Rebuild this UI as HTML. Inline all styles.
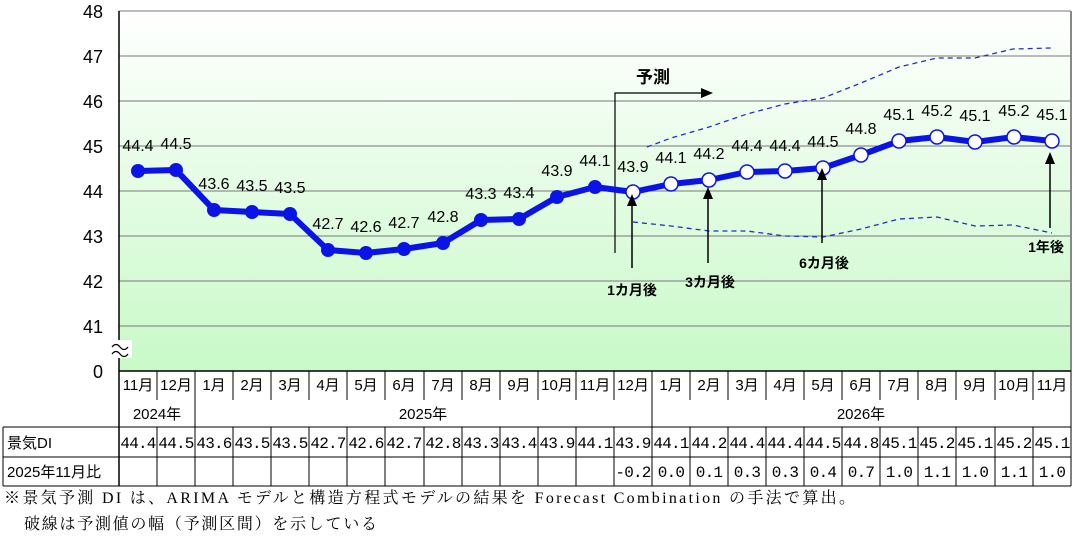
<!DOCTYPE html>
<html><head><meta charset="utf-8"><style>
body{margin:0;background:#fff;width:1081px;height:539px;overflow:hidden}
svg{display:block;font-family:"Liberation Sans","Noto Sans CJK JP",sans-serif}
.ft{font-family:"Liberation Serif","Noto Serif CJK SC",serif;font-size:16px}
</style></head><body>
<svg width="1081" height="539" viewBox="0 0 1081 539">
<defs><linearGradient id="g" x1="0" y1="0" x2="0" y2="1"><stop offset="0" stop-color="#ffffff"/><stop offset="1" stop-color="#c8f9c8"/></linearGradient></defs>
<rect x="119" y="11" width="952" height="360" fill="url(#g)"/>
<g stroke="#777" stroke-width="1">
<line x1="119" y1="11" x2="1071" y2="11"/><line x1="119" y1="56" x2="1071" y2="56"/><line x1="119" y1="101" x2="1071" y2="101"/><line x1="119" y1="146" x2="1071" y2="146"/><line x1="119" y1="191" x2="1071" y2="191"/><line x1="119" y1="236" x2="1071" y2="236"/><line x1="119" y1="281" x2="1071" y2="281"/><line x1="119" y1="326" x2="1071" y2="326"/>
</g>
<line x1="1071" y1="11" x2="1071" y2="371" stroke="#888" stroke-width="2"/>
<line x1="119" y1="11" x2="119" y2="486" stroke="#000" stroke-width="1.5"/>
<line x1="119" y1="371" x2="1071" y2="371" stroke="#000" stroke-width="1.5"/>
<rect x="110" y="340" width="22" height="18" fill="#fff"/>
<path d="M112 347 q4 -5 8 0 t8 0 M112 354 q4 -5 8 0 t8 0" fill="none" stroke="#000" stroke-width="1.3"/>
<g font-size="18" text-anchor="end" fill="#000">
<text x="103" y="18">48</text><text x="103" y="63">47</text><text x="103" y="108">46</text><text x="103" y="153">45</text><text x="103" y="198">44</text><text x="103" y="243">43</text><text x="103" y="288">42</text><text x="103" y="333">41</text><text x="103" y="378">0</text>
</g>
<polyline points="615,253 615,93 703,93" fill="none" stroke="#000" stroke-width="1.2"/>
<polygon points="713,93 701,88 701,98" fill="#000"/>
<text x="636" y="83" font-size="17" font-weight="bold">予測</text>
<polyline points="647,147 671,138 709,127 747,114 785,104 823,98 861,83 899,67 937,58 975,58 1013,49 1052,48" fill="none" stroke="#2030c0" stroke-width="1.3" stroke-dasharray="5,4"/>
<polyline points="633,222 671,226 709,231 747,231 785,236 823,237 861,229 899,219 937,217 975,226 1013,225 1052,233" fill="none" stroke="#2030c0" stroke-width="1.3" stroke-dasharray="5,4"/>
<polyline points="138,171 176,170 214,210 252,212 290,214 328,250 366,253 404,249 443,243 481,220 519,219 557,197 595,187 633,192 671,184 709,180 747,172 785,171 823,168 861,155 899,141 937,137 975,142 1014,137 1052,141" fill="none" stroke="#0a14e6" stroke-width="6" stroke-linejoin="round"/>
<g fill="#0a14e6">
<circle cx="138" cy="171" r="7"/><circle cx="176" cy="170" r="7"/><circle cx="214" cy="210" r="7"/><circle cx="252" cy="212" r="7"/><circle cx="290" cy="214" r="7"/><circle cx="328" cy="250" r="7"/><circle cx="366" cy="253" r="7"/><circle cx="404" cy="249" r="7"/><circle cx="443" cy="243" r="7"/><circle cx="481" cy="220" r="7"/><circle cx="519" cy="219" r="7"/><circle cx="557" cy="197" r="7"/><circle cx="595" cy="187" r="7"/>
</g>
<g fill="#fff" stroke="#0a14e6" stroke-width="1.5">
<circle cx="633" cy="192" r="7"/><circle cx="671" cy="184" r="7"/><circle cx="709" cy="180" r="7"/><circle cx="747" cy="172" r="7"/><circle cx="785" cy="171" r="7"/><circle cx="823" cy="168" r="7"/><circle cx="861" cy="155" r="7"/><circle cx="899" cy="141" r="7"/><circle cx="937" cy="137" r="7"/><circle cx="975" cy="142" r="7"/><circle cx="1014" cy="137" r="7"/><circle cx="1052" cy="141" r="7"/>
</g>
<g font-size="16" text-anchor="middle" fill="#000">
<text x="138" y="151">44.4</text><text x="176" y="149">44.5</text><text x="214" y="189">43.6</text><text x="252" y="191">43.5</text><text x="290" y="193">43.5</text><text x="328" y="229">42.7</text><text x="366" y="232">42.6</text><text x="404" y="228">42.7</text><text x="443" y="222">42.8</text><text x="481" y="199">43.3</text><text x="519" y="198">43.4</text><text x="557" y="176">43.9</text><text x="595" y="166">44.1</text>
<text x="633" y="172">43.9</text><text x="671" y="163">44.1</text><text x="709" y="159">44.2</text><text x="747" y="151">44.4</text><text x="785" y="151">44.4</text><text x="823" y="147">44.5</text><text x="861" y="134">44.8</text><text x="899" y="120">45.1</text><text x="937" y="116">45.2</text><text x="975" y="121">45.1</text><text x="1014" y="116">45.2</text><text x="1052" y="120">45.1</text>
</g>
<g stroke="#000" stroke-width="1.5"><line x1="632" y1="268" x2="632" y2="205"/><line x1="708" y1="263" x2="708" y2="195"/><line x1="822" y1="243" x2="822" y2="178"/><line x1="1050" y1="228" x2="1050" y2="155"/></g>
<g fill="#000"><polygon points="632,194 627,206 637,206"/><polygon points="708,187 703,199 713,199"/><polygon points="822,168 817,180 827,180"/><polygon points="1050,152 1045,164 1055,164"/></g>
<g font-size="14" font-weight="bold" text-anchor="middle">
<text x="632" y="295">1カ月後</text><text x="710" y="287">3カ月後</text><text x="824" y="268">6カ月後</text><text x="1046" y="252">1年後</text>
</g>
<g stroke="#000" stroke-width="1">
<line x1="3" y1="427" x2="1071" y2="427"/><line x1="3" y1="457" x2="1071" y2="457"/><line x1="3" y1="486" x2="1071" y2="486"/>
<line x1="3" y1="427" x2="3" y2="486"/><line x1="1071" y1="371" x2="1071" y2="486"/>
<line x1="195" y1="371" x2="195" y2="427"/><line x1="652" y1="371" x2="652" y2="427"/>
</g>
<g stroke="#000" stroke-width="1">
<line x1="157" y1="371" x2="157" y2="400"/><line x1="233" y1="371" x2="233" y2="400"/><line x1="271" y1="371" x2="271" y2="400"/><line x1="309" y1="371" x2="309" y2="400"/><line x1="347" y1="371" x2="347" y2="400"/><line x1="385" y1="371" x2="385" y2="400"/><line x1="424" y1="371" x2="424" y2="400"/><line x1="462" y1="371" x2="462" y2="400"/><line x1="500" y1="371" x2="500" y2="400"/><line x1="538" y1="371" x2="538" y2="400"/><line x1="576" y1="371" x2="576" y2="400"/><line x1="614" y1="371" x2="614" y2="400"/><line x1="690" y1="371" x2="690" y2="400"/><line x1="728" y1="371" x2="728" y2="400"/><line x1="766" y1="371" x2="766" y2="400"/><line x1="804" y1="371" x2="804" y2="400"/><line x1="842" y1="371" x2="842" y2="400"/><line x1="880" y1="371" x2="880" y2="400"/><line x1="918" y1="371" x2="918" y2="400"/><line x1="956" y1="371" x2="956" y2="400"/><line x1="995" y1="371" x2="995" y2="400"/><line x1="1033" y1="371" x2="1033" y2="400"/>
</g>
<g stroke="#000" stroke-width="1">
<line x1="157" y1="427" x2="157" y2="486"/><line x1="195" y1="427" x2="195" y2="486"/><line x1="233" y1="427" x2="233" y2="486"/><line x1="271" y1="427" x2="271" y2="486"/><line x1="309" y1="427" x2="309" y2="486"/><line x1="347" y1="427" x2="347" y2="486"/><line x1="385" y1="427" x2="385" y2="486"/><line x1="424" y1="427" x2="424" y2="486"/><line x1="462" y1="427" x2="462" y2="486"/><line x1="500" y1="427" x2="500" y2="486"/><line x1="538" y1="427" x2="538" y2="486"/><line x1="576" y1="427" x2="576" y2="486"/><line x1="614" y1="427" x2="614" y2="486"/><line x1="652" y1="427" x2="652" y2="486"/><line x1="690" y1="427" x2="690" y2="486"/><line x1="728" y1="427" x2="728" y2="486"/><line x1="766" y1="427" x2="766" y2="486"/><line x1="804" y1="427" x2="804" y2="486"/><line x1="842" y1="427" x2="842" y2="486"/><line x1="880" y1="427" x2="880" y2="486"/><line x1="918" y1="427" x2="918" y2="486"/><line x1="956" y1="427" x2="956" y2="486"/><line x1="995" y1="427" x2="995" y2="486"/><line x1="1033" y1="427" x2="1033" y2="486"/>
</g>
<g font-size="15" text-anchor="middle">
<text x="138" y="390">11月</text><text x="176" y="390">12月</text><text x="214" y="390">1月</text><text x="252" y="390">2月</text><text x="290" y="390">3月</text><text x="328" y="390">4月</text><text x="366" y="390">5月</text><text x="404" y="390">6月</text><text x="443" y="390">7月</text><text x="481" y="390">8月</text><text x="519" y="390">9月</text><text x="557" y="390">10月</text><text x="595" y="390">11月</text><text x="633" y="390">12月</text><text x="671" y="390">1月</text><text x="709" y="390">2月</text><text x="747" y="390">3月</text><text x="785" y="390">4月</text><text x="823" y="390">5月</text><text x="861" y="390">6月</text><text x="899" y="390">7月</text><text x="937" y="390">8月</text><text x="975" y="390">9月</text><text x="1014" y="390">10月</text><text x="1052" y="390">11月</text>
<text x="157" y="419">2024年</text><text x="423" y="419">2025年</text><text x="861" y="419">2026年</text>
</g>
<text x="7" y="448" font-size="15">景気DI</text>
<text x="7" y="477" font-size="15">2025年11月比</text>
<g font-size="16" text-anchor="middle" font-family="Liberation Mono,monospace" letter-spacing="-0.8">
<text x="138" y="448">44.4</text><text x="176" y="448">44.5</text><text x="214" y="448">43.6</text><text x="252" y="448">43.5</text><text x="290" y="448">43.5</text><text x="328" y="448">42.7</text><text x="366" y="448">42.6</text><text x="404" y="448">42.7</text><text x="443" y="448">42.8</text><text x="481" y="448">43.3</text><text x="519" y="448">43.4</text><text x="557" y="448">43.9</text><text x="595" y="448">44.1</text><text x="633" y="448">43.9</text><text x="671" y="448">44.1</text><text x="709" y="448">44.2</text><text x="747" y="448">44.4</text><text x="785" y="448">44.4</text><text x="823" y="448">44.5</text><text x="861" y="448">44.8</text><text x="899" y="448">45.1</text><text x="937" y="448">45.2</text><text x="975" y="448">45.1</text><text x="1014" y="448">45.2</text><text x="1052" y="448">45.1</text>
<text x="633" y="477">-0.2</text><text x="671" y="477">0.0</text><text x="709" y="477">0.1</text><text x="747" y="477">0.3</text><text x="785" y="477">0.3</text><text x="823" y="477">0.4</text><text x="861" y="477">0.7</text><text x="899" y="477">1.0</text><text x="937" y="477">1.1</text><text x="975" y="477">1.0</text><text x="1014" y="477">1.1</text><text x="1052" y="477">1.0</text>
</g>
<text class="ft" x="4" y="503" textLength="851" lengthAdjust="spacing">※景気予測 DI は、ARIMA モデルと構造方程式モデルの結果を Forecast Combination の手法で算出。</text>
<text class="ft" x="24" y="529" textLength="353" lengthAdjust="spacing">破線は予測値の幅（予測区間）を示している</text>
</svg>
</body></html>
